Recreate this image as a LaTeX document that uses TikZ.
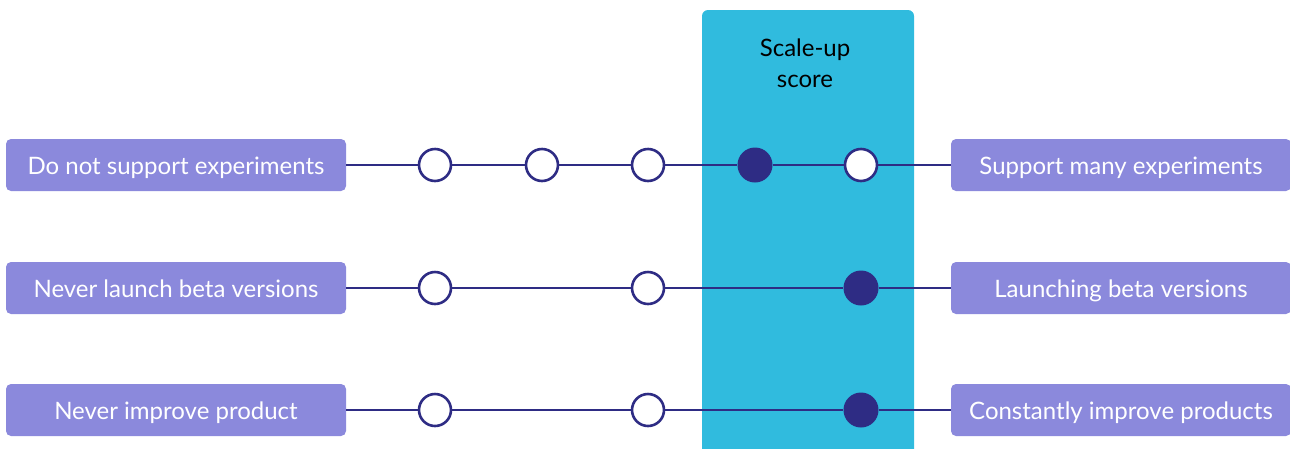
\documentclass[tikz,border=0pt]{standalone}
\usepackage{fontspec}
\setmainfont{Lato}
\definecolor{cyanbox}{HTML}{30BBDE}
\definecolor{labelbg}{HTML}{8B89DC}
\definecolor{navy}{HTML}{2E2C84}
\tikzset{
  lbl/.style={fill=labelbg, rounded corners=5pt, minimum width=340pt, minimum height=52pt, text=white, font=\fontsize{24}{28}\selectfont, inner sep=0pt, text height=18pt, text depth=0pt},
  dotopen/.style={circle, draw=navy, line width=2.6pt, fill=white, minimum size=32pt, inner sep=0pt},
  dotfull/.style={circle, fill=navy, minimum size=35pt, inner sep=0pt},
  conn/.style={draw=navy, line width=2.6pt}
}
\begin{document}
\begin{tikzpicture}[x=1pt,y=-1pt]
\useasboundingbox (0,0) rectangle (1290,448);
\fill[cyanbox, rounded corners=6pt] (702,10) rectangle (914,470);
\node[font=\fontsize{24}{31}\selectfont, align=center] (title) at (805,63) {Scale-up\\score};
% row 1
\node[lbl] (l1) at (176,165) {Do not support experiments};
\node[lbl] (r1) at (1121,165) {Support many experiments};
\node[dotopen] (a1) at (435,165) {};
\node[dotopen] (b1) at (542,165) {};
\node[dotopen] (c1) at (648,165) {};
\node[dotfull] (d1) at (755,165) {};
\node[dotopen] (e1) at (861,165) {};
\draw[conn] (l1) -- (a1) -- (b1) -- (c1) -- (d1) -- (e1) -- (r1);
% row 2
\node[lbl] (l2) at (176,288) {Never launch beta versions};
\node[lbl] (r2) at (1121,288) {Launching beta versions};
\node[dotopen] (a2) at (435,288) {};
\node[dotopen] (c2) at (648,288) {};
\node[dotfull] (e2) at (861,288) {};
\draw[conn] (l2) -- (a2) -- (c2) -- (e2) -- (r2);
% row 3
\node[lbl] (l3) at (176,410) {Never improve product};
\node[lbl] (r3) at (1121,410) {Constantly improve products};
\node[dotopen] (a3) at (435,410) {};
\node[dotopen] (c3) at (648,410) {};
\node[dotfull] (e3) at (861,410) {};
\draw[conn] (l3) -- (a3) -- (c3) -- (e3) -- (r3);
\end{tikzpicture}
\end{document}
